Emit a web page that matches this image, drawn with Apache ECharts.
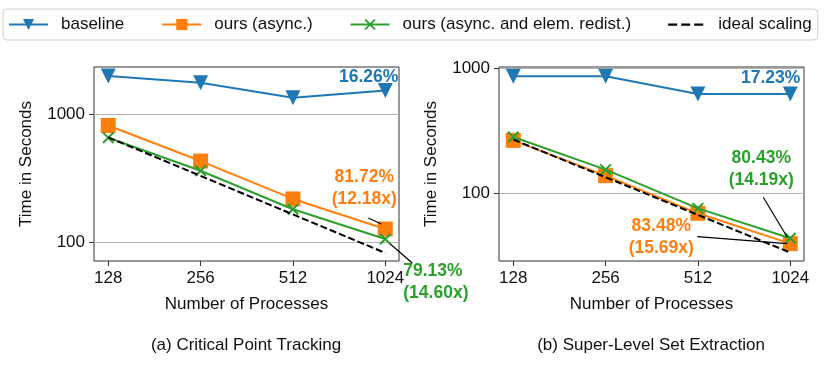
<!DOCTYPE html>
<html>
<head>
<meta charset="utf-8">
<script src="https://cdn.jsdelivr.net/npm/echarts@6/dist/echarts.min.js"></script>
<style>
  html, body { margin: 0; padding: 0; background: #fff; }
  #main { width: 830px; height: 371px; }
</style>
</head>
<body>
<div id="main"></div>
<script>
// process counts (x) and tick labels
const procs = [128, 256, 512, 1024]
const yTicksLeft = [100, 1000]
const yTicksRight = [100, 1000]

const seriesNames = ['baseline', 'ours (async.)', 'ours (async. and elem. redist.)', 'ideal scaling']

// (a) Critical Point Tracking, seconds
const cptBaseline = [1992, 1766, 1348, 1531]
const cptAsync = [817, 431, 218, 127]
const cptRedist = [655, 362, 181, 106]
const cptIdeal = [660, 330, 165, 82.5]

// (b) Super-Level Set Extraction, seconds
const slsBaseline = [857, 860, 620, 620]
const slsAsync = [264, 138, 69, 39.5]
const slsRedist = [281, 154, 75.5, 43.6]
const slsIdeal = [268, 134, 67, 33.5]

const captions = ['(a) Critical Point Tracking', '(b) Super-Level Set Extraction']

// annotation texts
const annBaseline = ['16.26%', '17.23%']
const annAsync = [['81.72%', '(12.18x)'], ['83.48%', '(15.69x)']]
const annRedist = [['79.13%', '(14.60x)'], ['80.43%', '(14.19x)']]

const blue = '#1f77b4'
const orange = '#ff7f0e'
const green = '#2ca02c'
const font = 'Liberation Sans'

const crossPath = 'path://M0,1.2 L1.2,0 L5,3.8 L8.8,0 L10,1.2 L6.2,5 L10,8.8 L8.8,10 L5,6.2 L1.2,10 L0,8.8 L3.8,5 Z'
// three short dashes for the ideal-scaling legend entry
const dashIcon = 'path://M0,6 L9,6 L9,8.2 L0,8.2 Z M13,6 L22,6 L22,8.2 L13,8.2 Z M26,6 L35,6 L35,8.2 L26,8.2 Z M0,0 L0.01,0 L0.01,14 L0,14 Z'

const styles = [
  { color: blue, symbol: 'triangle', symbolRotate: 180, symbolSize: 15 },
  { color: orange, symbol: 'rect', symbolSize: 15 },
  { color: green, symbol: crossPath, symbolSize: 12 },
  { color: '#000', symbol: 'none', dash: [7, 3] }
]

const allData = [
  [cptBaseline, cptAsync, cptRedist, cptIdeal],
  [slsBaseline, slsAsync, slsRedist, slsIdeal]
]

const gridLefts = [94, 499]
const yRanges = [[71.4, 2340], [28.7, 1018]]
const yTicks = [yTicksLeft, yTicksRight]

let grids = []
let xAxes = []
let yAxes = []
let series = []

for (let g = 0; g < 2; g++) {
  grids.push({
    left: gridLefts[g], top: 67, width: 305, height: 194,
    show: true, borderColor: '#333', borderWidth: 1
  })
  xAxes.push({
    gridIndex: g,
    type: 'log',
    logBase: 2,
    min: 115,
    max: 1135,
    name: 'Number of Processes',
    nameLocation: 'middle',
    nameGap: 35,
    nameTextStyle: { fontSize: 17, color: '#111', fontFamily: font },
    axisLine: { show: false },
    axisTick: { show: true, inside: false, length: 5, customValues: procs, lineStyle: { color: '#333' } },
    axisLabel: {
      customValues: procs, fontSize: 17, color: '#111', margin: 9, fontFamily: font,
      formatter: v => String(Math.round(v))
    },
    splitLine: { show: false },
    minorTick: { show: false }
  })
  yAxes.push({
    gridIndex: g,
    type: 'log',
    min: yRanges[g][0],
    max: yRanges[g][1],
    name: 'Time in Seconds',
    nameLocation: 'middle',
    nameGap: 59,
    nameTextStyle: { fontSize: 17, color: '#111', fontFamily: font },
    axisLine: { show: false },
    axisTick: { show: true, inside: false, length: 5, customValues: yTicks[g], lineStyle: { color: '#333' } },
    axisLabel: {
      customValues: yTicks[g], fontSize: 17, color: '#111', margin: 9, fontFamily: font,
      formatter: v => String(Math.round(v))
    },
    splitLine: { show: true, lineStyle: { color: '#b0b0b0', width: 1 } },
    minorTick: { show: false }
  })
  for (let m = 0; m < 4; m++) {
    let s = styles[m]
    series.push({
      type: 'line',
      name: seriesNames[m],
      xAxisIndex: g,
      yAxisIndex: g,
      data: procs.map((p, i) => [p, allData[g][m][i]]),
      symbol: s.symbol,
      symbolSize: s.symbolSize,
      symbolRotate: s.symbolRotate || 0,
      showSymbol: s.symbol !== 'none',
      color: s.color,
      itemStyle: { color: s.color },
      lineStyle: { color: s.color, width: 2, type: s.dash || 'solid' },
      z: 2 + m
    })
  }
}

let chart = echarts.init(document.getElementById('main'))
chart.setOption({
  animation: false,
  textStyle: { fontFamily: font },
  legend: {
    data: [
      seriesNames[0],
      seriesNames[1],
      seriesNames[2],
      { name: seriesNames[3], icon: dashIcon }
    ],
    left: 3,
    top: 9,
    padding: [7, 6, 7, 5],
    itemWidth: 39,
    itemHeight: 14,
    itemGap: 37,
    borderColor: '#cccccc',
    borderWidth: 1,
    borderRadius: 4,
    textStyle: { fontSize: 17, color: '#111', fontFamily: font, padding: [0, 0, 0, 8] }
  },
  grid: grids,
  xAxis: xAxes,
  yAxis: yAxes,
  series: series
})

// annotations positioned relative to the 1024 points
function px (g, x, y) {
  return chart.convertToPixel({ xAxisIndex: g, yAxisIndex: g }, [x, y])
}

let graphics = []
function addText (pt, dx, dy, text, color, align) {
  graphics.push({
    type: 'text',
    x: pt[0] + dx,
    y: pt[1] + dy,
    z: 10,
    style: {
      text: text,
      fill: color,
      font: 'bold 17.5px "Liberation Sans"',
      align: align,
      verticalAlign: 'middle',
      lineHeight: 22
    }
  })
}
function addLine (pt, x1, y1, x2, y2) {
  graphics.push({
    type: 'line',
    z: 10,
    shape: { x1: pt[0] + x1, y1: pt[1] + y1, x2: pt[0] + x2, y2: pt[1] + y2 },
    style: { stroke: '#000', lineWidth: 1.2 }
  })
}

let last = procs.length - 1
// left plot
let pB = px(0, procs[last], cptBaseline[last])
let pA = px(0, procs[last], cptAsync[last])
let pR = px(0, procs[last], cptRedist[last])
addText(pB, 13, -13, annBaseline[0], blue, 'right')
addText(pA, -21, -41, annAsync[0].join('\n'), orange, 'center')
addLine(pA, -17, -11, -4, -5)
addText(pR, 18, 43, annRedist[0].join('\n'), green, 'left')
addLine(pR, 5, 5, 27, 24)
// right plot
pB = px(1, procs[last], slsBaseline[last])
pA = px(1, procs[last], slsAsync[last])
pR = px(1, procs[last], slsRedist[last])
addText(pB, 10, -16, annBaseline[1], blue, 'right')
addText(pR, -29, -69, annRedist[1].join('\n'), green, 'center')
addLine(pR, -27, -41, -3, -1)
addText(pA, -129, -6, annAsync[1].join('\n'), orange, 'center')
addLine(pA, -93, -7, -3, 0)

// sub-figure captions
for (let g = 0; g < 2; g++) {
  graphics.push({
    type: 'text',
    x: gridLefts[g] + 152,
    y: 345,
    style: { text: captions[g], fill: '#111', font: '17px "Liberation Sans"', align: 'center', verticalAlign: 'middle' }
  })
}

chart.setOption({ graphic: graphics })
</script>
</body>
</html>
